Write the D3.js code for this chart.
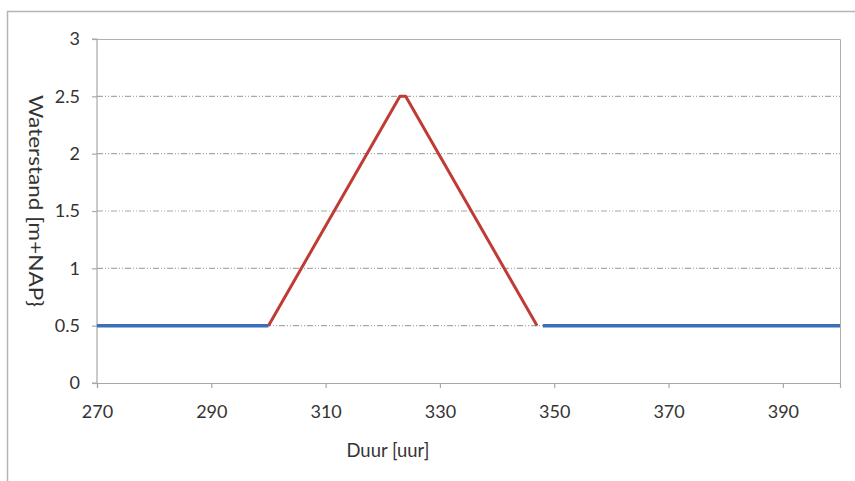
<!DOCTYPE html>
<html><head><meta charset="utf-8">
<script src="https://cdn.jsdelivr.net/npm/d3@7"></script>
<style>body{margin:0;background:#fff;} text{font-family:Lato,"Open Sans",sans-serif;fill:#333;}</style>
</head><body>
<svg id="c" width="855" height="481"></svg>
<script>
const xTicks = [270, 290, 310, 330, 350, 370, 390];
const yTicks = [0, 0.5, 1, 1.5, 2, 2.5, 3];
const blueLeftX = [270, 300];
const blueLeftY = [0.5, 0.5];
const redX = [300, 323, 324, 347];
const redY = [0.5, 2.5, 2.5, 0.5];
const blueRightX = [348, 400];
const blueRightY = [0.5, 0.5];
const xLabel = "Duur [uur]";
const yLabel = "Waterstand [m+NAP}";

const svg = d3.select("#c");
const L = 97, R = 840, T = 39, B = 383;
const x = d3.scaleLinear().domain([270, 400]).range([L, R]);
const y = d3.scaleLinear().domain([0, 3]).range([B, T]);

// outer frame
svg.append("path").attr("d", `M7.5,481 V11.5 H855`).attr("fill","none").attr("stroke","#b5b5b5").attr("stroke-width",1.5);

// gridlines
svg.append("g").selectAll("line").data(yTicks.filter(d => d > 0 && d < 3)).join("line")
  .attr("x1", L).attr("x2", R).attr("y1", d => y(d)).attr("y2", d => y(d))
  .attr("stroke", "#a8a8a8").attr("stroke-width", 1.2).attr("stroke-dasharray", "6,2,1,2,1,2");

// plot border top/right
svg.append("path").attr("d", `M${L},${T+0.5} H${R+0.5} V${B}`).attr("fill","none").attr("stroke","#b0b0b0").attr("stroke-width",1);

// axes
const yAxis = d3.axisLeft(y).tickValues(yTicks).tickFormat(d3.format("")).tickSize(5).tickPadding(12);
const gy = svg.append("g").attr("transform", `translate(${L},0)`).call(yAxis);
const xAxis = d3.axisBottom(x).tickValues(xTicks).tickFormat(d3.format("")).tickSize(5).tickPadding(17);
const gx = svg.append("g").attr("transform", `translate(0,${B})`).call(xAxis);
[gx, gy].forEach(g => {
  g.select(".domain").attr("stroke", "#a8a8a8").attr("stroke-width", 1.2);
  g.selectAll(".tick line").attr("stroke", "#a8a8a8").attr("stroke-width", 1.2);
  g.selectAll("text").style("font-size", "18px").style("fill", "#333").style("font-family", "Lato, 'Open Sans', sans-serif");
});
gy.select(".domain").attr("d", `M-5,${B}H0V${T}H-5`);

// lines
const line = d3.line().x(d => x(d[0])).y(d => y(d[1]));
const zip = (a, b) => a.map((v, i) => [v, b[i]]);
svg.append("path").datum(zip(blueLeftX, blueLeftY)).attr("d", line).attr("fill","none").attr("stroke","#3d6fb6").attr("stroke-width",3.5);
svg.append("path").datum(zip(blueRightX, blueRightY)).attr("d", line).attr("fill","none").attr("stroke","#3d6fb6").attr("stroke-width",3.5);
svg.append("path").datum(zip(redX, redY)).attr("d", line).attr("fill","none").attr("stroke","#bf3b35").attr("stroke-width",3).attr("stroke-linejoin","round");

// labels
svg.append("text").attr("x", 388).attr("y", 457).attr("text-anchor","middle").style("font-size","19px")
  .attr("textLength", 83).attr("lengthAdjust","spacingAndGlyphs").text(xLabel);
svg.append("text").attr("transform", `translate(36,201) rotate(90)`).attr("text-anchor","middle").attr("dy","0.35em").style("font-size","19px")
  .attr("textLength", 212).attr("lengthAdjust","spacingAndGlyphs").text(yLabel);
</script>
</body></html>
